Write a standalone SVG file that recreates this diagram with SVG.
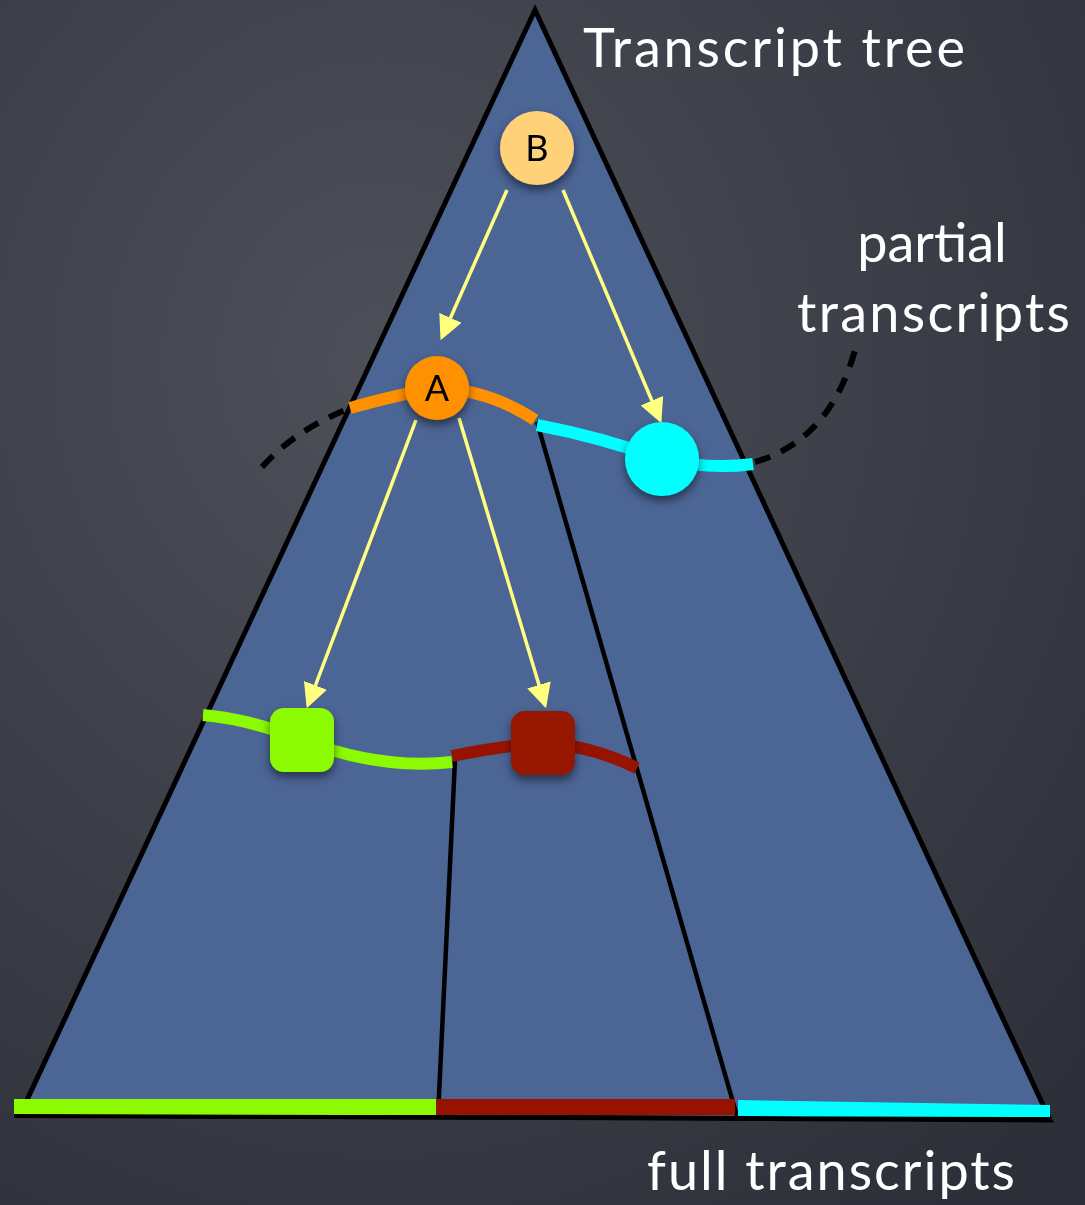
<svg xmlns="http://www.w3.org/2000/svg" width="1085" height="1205" viewBox="0 0 1085 1205">
<defs>
<radialGradient id="bg" cx="0.35" cy="0.3" r="0.9">
<stop offset="0" stop-color="#4d5058"/>
<stop offset="1" stop-color="#2c2f37"/>
</radialGradient>
<filter id="sh" x="-50%" y="-50%" width="200%" height="200%">
<feDropShadow dx="0" dy="5" stdDeviation="5" flood-color="#000" flood-opacity="0.5"/>
</filter>
<marker id="ah" markerWidth="7" markerHeight="7" refX="6" refY="3.5" orient="auto" markerUnits="strokeWidth">
<path d="M0,0 L7,3.5 L0,7 Z" fill="#ffff80"/>
</marker>
<style>
.txt{font-family:"Lato","Open Sans","Liberation Sans",sans-serif;fill:#ffffff;font-size:54px}
.lbl{font-family:"Lato","Liberation Sans",sans-serif;fill:#000;font-size:36px;text-anchor:middle}
.edge{stroke:#ffff80;stroke-width:3.5;fill:none;marker-end:url(#ah)}
.div{stroke:#000;stroke-width:4.5;fill:none}
.dash{stroke:#000;stroke-width:6;fill:none;stroke-dasharray:16 12}
.seg{stroke-width:12;fill:none}
</style>
</defs>
<rect width="1085" height="1205" fill="url(#bg)"/>
<g id="tree">
<polygon points="535,10 20,1115 1050,1120" fill="#4b6595" stroke="#000" stroke-width="5" stroke-linejoin="miter"/>
<line class="div" x1="537" y1="422" x2="737" y2="1116"/>
<line class="div" x1="455" y1="760" x2="438" y2="1116"/>
</g>
<g id="dashed-cut">
<path class="dash" d="M262,467 Q295,430 350,408"/>
<path class="dash" d="M537,422 Q600,440 640,455"/>
<path class="dash" d="M755,462 Q830,440 855,350"/>
</g>
<g id="partial-level">
<path class="seg" stroke="#ff9000" d="M350,408 Q400,394 437,388 Q490,390 535,420"/>
<path class="seg" stroke="#00ffff" d="M537,425 Q600,437 662,459 Q710,470 753,464"/>
</g>
<g id="lower-level">
<path class="seg" stroke="#8cfa00" d="M203,715 Q250,719 302,740 Q380,770 452,762"/>
<path class="seg" stroke="#971300" d="M452,756 Q500,746 543,743 Q590,745 637,768"/>
</g>
<g id="full-transcripts">
<polygon points="14,1099 436,1099 436,1115 14,1115" fill="#8cfa00"/>
<polygon points="436,1099 735,1099 735,1115 436,1115" fill="#971300"/>
<polygon points="738,1100 1050,1105 1050,1121 738,1116" fill="#00ffff"/>
<line x1="14" y1="1116" x2="1050" y2="1119" stroke="#000" stroke-width="4"/>
</g>
<g id="connectors">
<line class="edge" x1="507" y1="190" x2="442" y2="337"/>
<line class="edge" x1="563" y1="190" x2="660" y2="420"/>
<line class="edge" x1="416" y1="420" x2="308" y2="705"/>
<line class="edge" x1="459" y1="418" x2="545" y2="705"/>
</g>
<g id="node-B" filter="url(#sh)">
<circle cx="537" cy="148" r="37" fill="#ffd27a"/>
<text class="lbl" x="537" y="161">B</text>
</g>
<g id="node-A" filter="url(#sh)">
<circle cx="437" cy="388" r="32" fill="#ff9000"/>
<text class="lbl" x="437" y="401">A</text>
</g>
<g id="node-cyan" filter="url(#sh)">
<circle cx="662" cy="459" r="37" fill="#00ffff"/>
</g>
<g id="node-green" filter="url(#sh)">
<rect x="270" y="708" width="64" height="64" rx="14" fill="#8cfa00"/>
</g>
<g id="node-red" filter="url(#sh)">
<rect x="511" y="711" width="64" height="64" rx="14" fill="#971300"/>
</g>
<g id="labels">
<text class="txt" x="583" y="67" textLength="382">Transcript tree</text>
<text class="txt" x="932" y="262" text-anchor="middle">partial</text>
<text class="txt" x="797" y="332" textLength="273">transcripts</text>
<text class="txt" x="647" y="1190" textLength="368">full transcripts</text>
</g>
</svg>
